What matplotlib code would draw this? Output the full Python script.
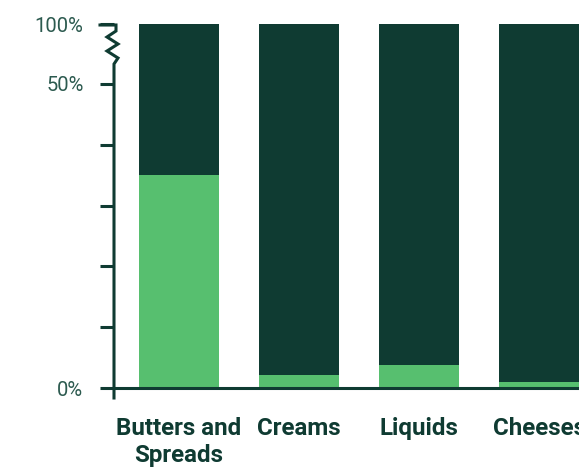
import numpy as np
import matplotlib.pyplot as plt
from matplotlib.lines import Line2D

# data (percent of category)
categories = ["Butters and\nSpreads", "Creams", "Liquids", "Cheeses"]
light_share = [35.0, 2.1, 3.8, 1.0]
dark_share = [100 - v for v in light_share]

dark = "#0f3b32"
light = "#57bf6f"
tick_col = "#2c5a4f"

plt.rcParams['font.family'] = ['Roboto', 'DejaVu Sans']

# broken y scale: 0-50 linear, 50-100 compressed
k = 0.197
def fwd(v):
    v = np.asarray(v, dtype=float)
    return np.where(v <= 50, v, 50 + (v - 50) * k)
def inv(v):
    v = np.asarray(v, dtype=float)
    return np.where(v <= 50, v, 50 + (v - 50) / k)

W, H = 579, 468
fig = plt.figure(figsize=(W / 100, H / 100), dpi=100)
ax = fig.add_axes([114 / W, 1 - 388 / H, 1 - 114 / W, (388 - 24) / H])
ax.set_yscale('function', functions=(fwd, inv))

x = np.arange(len(categories))
ax.bar(x, light_share, width=0.667, color=light, zorder=2)
ax.bar(x, dark_share, bottom=light_share, width=0.667, color=dark, zorder=2)

ax.set_xlim(-0.5417, 3.333)
ax.set_ylim(0, 100)

for s in ['top', 'right', 'left']:
    ax.spines[s].set_visible(False)
ax.spines['bottom'].set_color(dark)
ax.spines['bottom'].set_linewidth(2.2)
ax.spines['bottom'].set_zorder(3)

ax.set_yticks([0, 10, 20, 30, 40, 50, 100])
ax.set_yticklabels(["0%", "", "", "", "", "50%", "100%"])
ax.yaxis.set_minor_locator(plt.NullLocator())
ax.tick_params(axis='y', length=10, width=2.2, color=dark, labelsize=14.5,
               labelcolor=tick_col, pad=12)

ax.set_xticks(x)
ax.set_xticklabels(categories, fontsize=17.4, fontweight='bold', color=dark,
                   linespacing=1.2)
ax.tick_params(axis='x', length=0, pad=21)

# y axis line with break (figure pixel coords -> fraction)
def px(pts):
    xs = [p[0] / W for p in pts]
    ys = [1 - p[1] / H for p in pts]
    return xs, ys

axis_pts = [(100, 25), (116, 25), (116, 31), (107, 37), (118, 44), (107, 51),
            (118, 58), (114, 64), (114, 398)]
xs, ys = px(axis_pts)
fig.add_artist(Line2D(xs, ys, transform=fig.transFigure, color=dark,
                      linewidth=2.2, solid_joinstyle='miter'))

fig.savefig("out.png", dpi=100)
